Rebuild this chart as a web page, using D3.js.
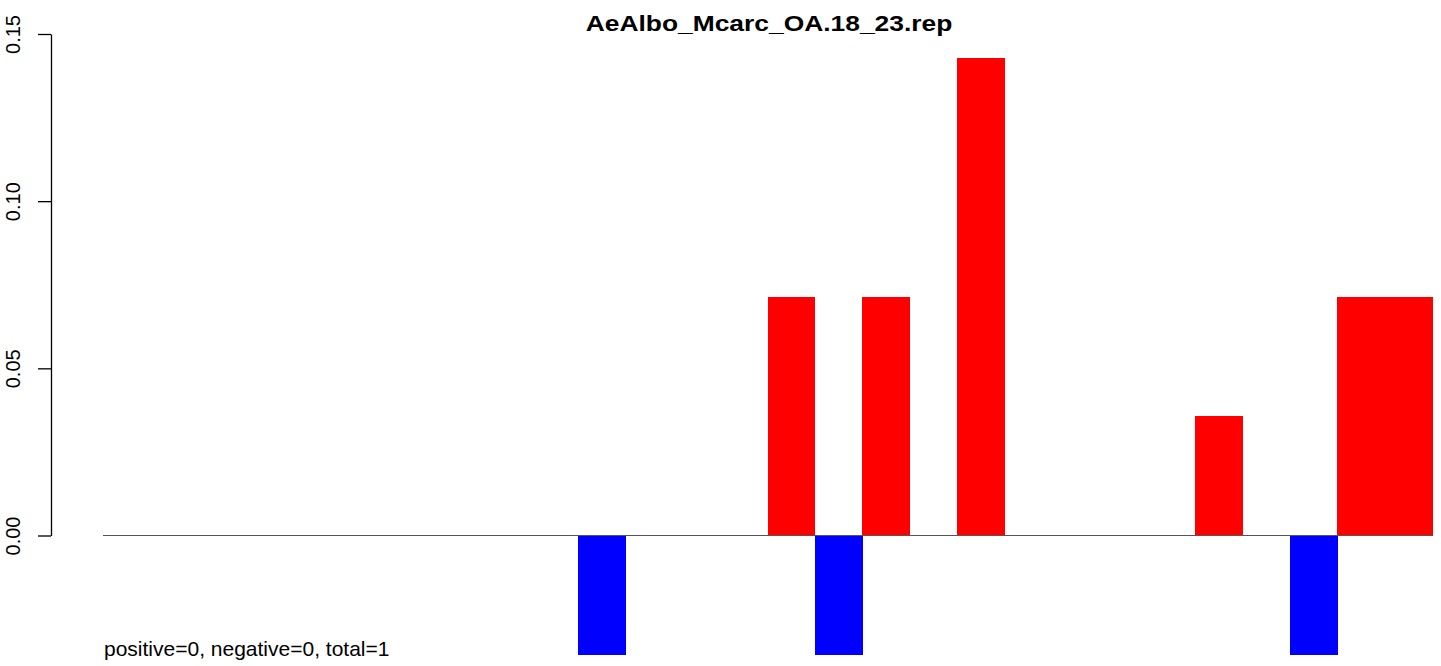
<!DOCTYPE html>
<html>
<head>
<meta charset="utf-8">
<script src="https://cdn.jsdelivr.net/npm/d3@7"></script>
<style>
  html, body { margin: 0; padding: 0; background: #fff; }
  svg { display: block; font-family: "Liberation Sans", Arial, Helvetica, sans-serif; }
</style>
</head>
<body>
<div id="chart"></div>
<script>
// ---- data ----
const titleText = "AeAlbo_Mcarc_OA.18_23.rep";
const footText = "positive=0, negative=0, total=1";
const categories = d3.range(28).map(i => "pos" + (i + 1));
const values = [
  0, 0, 0, 0, 0, 0, 0, 0, 0, 0,
  -0.0357, 0, 0, 0, 0.0714, -0.0357, 0.0714, 0, 0.1429, 0,
  0, 0, 0, 0.0357, 0, -0.0357, 0.0714, 0.0714
];
const yTicks = [0, 0.05, 0.10, 0.15];
const yTickLabels = ["0.00", "0.05", "0.10", "0.15"];

// ---- chart ----
const W = 1441, H = 666;
const svg = d3.select("#chart").append("svg").attr("width", W).attr("height", H);

const x = d3.scaleBand().domain(categories).range([103, 1432]).padding(0);
const y = d3.scaleLinear().domain([0, 0.15]).range([535.5, 34]);

// bars
svg.append("g").attr("shape-rendering", "crispEdges").selectAll("rect")
  .data(values.map((v, i) => ({ c: categories[i], v })).filter(d => d.v !== 0))
  .join("rect")
  .attr("x", d => x(d.c))
  .attr("width", x.bandwidth() + 0.5)
  .attr("y", d => Math.min(y(d.v), y(0)))
  .attr("height", d => Math.abs(y(d.v) - y(0)))
  .attr("fill", d => d.v > 0 ? "#FF0000" : "#0000FF");

// baseline
svg.append("line")
  .attr("x1", x.range()[0]).attr("x2", x.range()[1])
  .attr("y1", y(0)).attr("y2", y(0))
  .attr("stroke", "#555").attr("stroke-width", 1);

// y axis
const axis = d3.axisLeft(y).tickValues(yTicks)
  .tickFormat((d, i) => yTickLabels[i]).tickSize(13).tickSizeOuter(0);
const gAxis = svg.append("g").attr("transform", "translate(51,0)").call(axis);
gAxis.select(".domain").attr("stroke", "#000").attr("stroke-width", 1.3);
gAxis.selectAll(".tick line").attr("stroke", "#000").attr("stroke-width", 1.3);
gAxis.selectAll(".tick text")
  .attr("font-size", 20)
  .attr("fill", "#000")
  .attr("text-anchor", "middle")
  .attr("dy", 0)
  .attr("x", 0).attr("y", 0)
  .attr("transform", "translate(-31,0) rotate(-90)");

// title
svg.append("text")
  .attr("transform", "translate(769,31) scale(1.2,1)")
  .attr("text-anchor", "middle")
  .attr("font-weight", "bold")
  .attr("font-size", 22)
  .attr("fill", "#000")
  .text(titleText);

// footer text
svg.append("text")
  .attr("x", 104).attr("y", 656)
  .attr("font-size", 21)
  .attr("fill", "#000")
  .text(footText);
</script>
</body>
</html>
